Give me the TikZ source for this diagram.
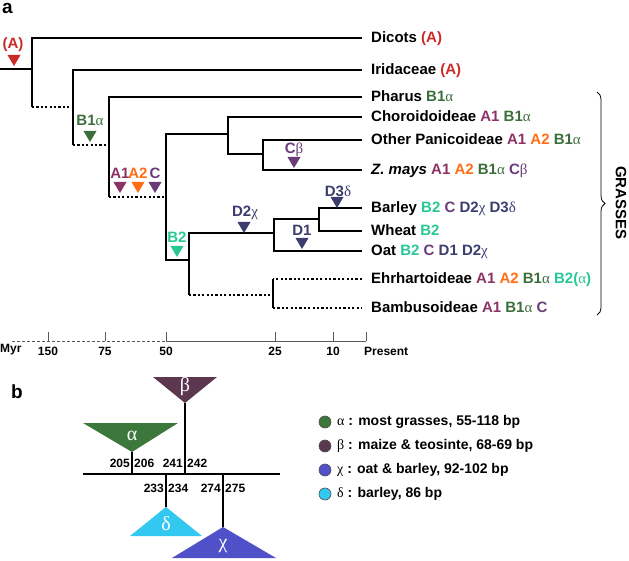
\documentclass[tikz,border=0pt]{standalone}
\usepackage{fontspec}
\setmainfont{Liberation Sans}
\newfontfamily\grk{Liberation Serif}
\usetikzlibrary{decorations.pathreplacing}
\definecolor{cA}{RGB}{204,41,41}
\definecolor{cAone}{RGB}{140,50,100}
\definecolor{cAtwo}{RGB}{255,110,20}
\definecolor{cBone}{RGB}{60,110,60}
\definecolor{cC}{RGB}{105,60,120}
\definecolor{cBtwo}{RGB}{40,200,150}
\definecolor{cD}{RGB}{60,60,110}
\definecolor{tAl}{RGB}{60,120,60}
\definecolor{tBe}{RGB}{92,55,80}
\definecolor{tCh}{RGB}{80,80,200}
\definecolor{tDe}{RGB}{50,200,240}
\newcommand\myal{{\grk\mdseries α}}
\newcommand\mybe{{\grk\mdseries β}}
\newcommand\mych{{\grk\mdseries χ}}
\newcommand\myde{{\grk\mdseries δ}}
\newcommand\mymk[3]{\fill[#1] ({#2-6.5},#3) -- ++(13,0) -- ++(-6.5,11) -- cycle;}
\begin{document}
\begin{tikzpicture}[x=1pt,y=-1pt,
  br/.style={line width=2.4pt},
  dotbr/.style={line width=2.4pt,dash pattern=on 2.2pt off 2.2pt},
  leaf/.style={anchor=west,inner xsep=9pt,inner ysep=0pt,text height=11pt,text depth=2pt,font=\fontsize{15}{18}\selectfont\bfseries},
  mlab/.style={inner sep=0pt,font=\fontsize{15}{18}\selectfont\bfseries},
  axlab/.style={inner sep=0pt,font=\fontsize{12}{14}\selectfont\bfseries},
  num/.style={inner sep=1pt,font=\fontsize{12}{14}\selectfont\bfseries},
  grkw/.style={inner sep=0pt,text=white,font=\fontsize{20}{22}\selectfont\grk},
  thin/.style={line width=1.1pt},
  legt/.style={anchor=west,inner sep=0pt,font=\fontsize{14}{16}\selectfont\bfseries},
  panel/.style={inner sep=0pt,font=\fontsize{19}{22}\selectfont\bfseries}
]
\useasboundingbox (0,0) rectangle (629,561);

\node[panel,anchor=north west] (pa) at (2,3) {a};
\node[panel] (pb) at (17,392) {b};

% ---- leaf labels ----
\node[leaf] (dic) at (362,38) {Dicots \textcolor{cA}{(A)}};
\node[leaf] (iri) at (362,70) {Iridaceae \textcolor{cA}{(A)}};
\node[leaf] (pha) at (362,97) {Pharus \textcolor{cBone}{B1\myal}};
\node[leaf] (cho) at (362,117) {Choroidoideae \textcolor{cAone}{A1} \textcolor{cBone}{B1\myal}};
\node[leaf] (opa) at (362,140) {Other Panicoideae \textcolor{cAone}{A1} \textcolor{cAtwo}{A2} \textcolor{cBone}{B1\myal}};
\node[leaf] (zma) at (362,170) {\textit{Z. mays} \textcolor{cAone}{A1} \textcolor{cAtwo}{A2} \textcolor{cBone}{B1\myal} \textcolor{cC}{C\mybe}};
\node[leaf] (bar) at (362,208) {Barley \textcolor{cBtwo}{B2} \textcolor{cC}{C} \textcolor{cD}{D2\mych{} D3\myde}};
\node[leaf] (whe) at (362,231) {Wheat \textcolor{cBtwo}{B2}};
\node[leaf] (oat) at (362,251) {Oat \textcolor{cBtwo}{B2} \textcolor{cC}{C} \textcolor{cD}{D1 D2\mych}};
\node[leaf] (ehr) at (362,279) {Ehrhartoideae \textcolor{cAone}{A1} \textcolor{cAtwo}{A2} \textcolor{cBone}{B1\myal} \textcolor{cBtwo}{B2(\myal)}};
\node[leaf] (bam) at (362,308) {Bambusoideae \textcolor{cAone}{A1} \textcolor{cBone}{B1\myal} \textcolor{cC}{C}};

% ---- internal coordinates ----
\coordinate (r0) at (0,69);
\coordinate (n1) at (32,69);
\coordinate (n1t) at (32,38);
\coordinate (n1b) at (32,107);
\coordinate (n2) at (73,107);
\coordinate (n2t) at (73,70);
\coordinate (n2b) at (73,145);
\coordinate (n3) at (109,145);
\coordinate (n3t) at (109,97);
\coordinate (n3b) at (109,197);
\coordinate (n4) at (166,197);
\coordinate (n4t) at (166,134);
\coordinate (n4b) at (166,260);
\coordinate (n5) at (228,134);
\coordinate (n5t) at (228,117);
\coordinate (n5b) at (228,154);
\coordinate (n6) at (263,154);
\coordinate (n6t) at (263,140);
\coordinate (n6b) at (263,170);
\coordinate (n7) at (189,260);
\coordinate (n7t) at (189,233);
\coordinate (n7b) at (189,295);
\coordinate (n8) at (274,233);
\coordinate (n8t) at (274,219);
\coordinate (n8b) at (274,251);
\coordinate (n9) at (319,219);
\coordinate (n9t) at (319,208);
\coordinate (n9b) at (319,231);
\coordinate (n10) at (273,295);
\coordinate (n10t) at (273,279);
\coordinate (n10b) at (273,308);

% ---- branches ----
\draw[br] (r0) -- (n1);
\draw[br] (dic.west) -- (n1t) -- (n1b);
\draw[dotbr] (n1b) -- (n2);
\draw[br] (iri.west) -- (n2t) -- (n2b);
\draw[dotbr] (n2b) -- (n3);
\draw[br] (pha.west) -- (n3t) -- (n3b);
\draw[dotbr] (n3b) -- (n4);
\draw[br] (n5) -- (n4t) -- (n4b) -- (n7);
\draw[br] (cho.west) -- (n5t) -- (n5b) -- (n6);
\draw[br] (opa.west) -- (n6t) -- (n6b) -- (zma.west);
\draw[br] (n8) -- (n7t) -- (n7b);
\draw[dotbr] (n7b) -- (n10);
\draw[br] (n9) -- (n8t) -- (n8b) -- (oat.west);
\draw[br] (bar.west) -- (n9t) -- (n9b) -- (whe.west);
\draw[dotbr] (ehr.west) -- (n10t);
\draw[br] (n10t) -- (n10b);
\draw[dotbr] (n10b) -- (bam.west);

% ---- markers ----
\node[mlab,text=cA] (mA) at (13,45) {(A)};
\mymk{cA}{14}{55}
\node[mlab,text=cBone] (mB1) at (90,120) {B1\myal};
\mymk{cBone}{90}{131}
\node[mlab,text=cAone] (mA1) at (120,173) {A1};
\mymk{cAone}{120}{182}
\node[mlab,text=cAtwo] (mA2) at (138,173) {A2};
\mymk{cAtwo}{138}{182}
\node[mlab,text=cC] (mC) at (155,173) {C};
\mymk{cC}{155}{182}
\node[mlab,text=cC] (mCb) at (294,150) {C\mybe};
\mymk{cC}{294}{157}
\node[mlab,text=cD] (mD2) at (245,213) {D2\mych};
\mymk{cD}{244}{222}
\node[mlab,text=cBtwo] (mB2) at (177,237) {B2};
\mymk{cBtwo}{177}{246}
\node[mlab,text=cD] (mD1) at (302,230) {D1};
\mymk{cD}{302}{238}
\node[mlab,text=cD] (mD3) at (338,191) {D3\myde};
\mymk{cD}{337}{197}

% ---- grasses brace ----
\coordinate (gt) at (597,92);
\coordinate (gb) at (597,315);
\draw[line width=0.8pt,decorate,decoration={brace,amplitude=8pt}] (gt) -- (gb);
\node[inner sep=0pt,rotate=-90,font=\fontsize{15}{18}\selectfont\bfseries] (gr) at (621,203) {GRASSES};

% ---- time axis ----
\coordinate (ax0) at (12,341);
\coordinate (ax50) at (166,341);
\coordinate (axp) at (366,341);
\draw[line width=0.8pt,gray!70!black,dash pattern=on 3pt off 2pt] (ax0) -- (ax50);
\draw[line width=0.8pt,gray!70!black] (ax50) -- (axp);
\foreach \xx in {48,105,166,275,333,366}{\draw[line width=0.8pt,gray!70!black] (\xx,332) -- (\xx,341);}
\node[axlab,anchor=west] (myr) at (0,350) {Myr};
\node[axlab] (t150) at (48,351) {150};
\node[axlab] (t75) at (105,351) {75};
\node[axlab] (t50) at (166,351) {50};
\node[axlab] (t25) at (275,351) {25};
\node[axlab] (t10) at (333,351) {10};
\node[axlab,anchor=west] (tp) at (364,351) {Present};

% ---- panel b ----
\coordinate (bL) at (83,474);
\coordinate (bR) at (280,474);
\coordinate (beA) at (185,403);
\coordinate (beJ) at (185,474);
\coordinate (alA) at (132,452);
\coordinate (alJ) at (132,474);
\coordinate (deA) at (166,507);
\coordinate (deJ) at (166,474);
\coordinate (chA) at (223,527);
\coordinate (chJ) at (223,474);
\fill[tBe] (153,377) -- (217,377) -- (beA) -- cycle;
\fill[tAl] (83,423) -- (178,423) -- (alA) -- cycle;
\fill[tDe] (130,536) -- (202,536) -- (deA) -- cycle;
\fill[tCh] (172,558) -- (276,558) -- (chA) -- cycle;
\draw[thin] (bL) -- (bR);
\draw[thin] (beA) -- (beJ);
\draw[thin] (alA) -- (alJ);
\draw[thin] (deJ) -- (deA);
\draw[thin] (chJ) -- (chA);
\node[grkw] (gbe) at (185,387) {β};
\node[grkw] (gal) at (132,436) {α};
\node[grkw] (gde) at (166,524) {δ};
\node[grkw] (gch) at (223,546) {χ};
\node[num,anchor=east] (n205) at (131,463) {205};
\node[num,anchor=west] (n206) at (133,463) {206};
\node[num,anchor=east] (n241) at (184,463) {241};
\node[num,anchor=west] (n242) at (186,463) {242};
\node[num,anchor=east] (n233) at (165,488) {233};
\node[num,anchor=west] (n234) at (167,488) {234};
\node[num,anchor=east] (n274) at (222,488) {274};
\node[num,anchor=west] (n275) at (224,488) {275};

% ---- legend ----
\foreach \yy/\cc in {422/tAl,446/tBe,470/tCh,494/tDe}{\filldraw[fill=\cc,draw=black!70,line width=0.6pt] (325,\yy) circle (6);}
\node[legt] (l1) at (337,422) {\myal{} : most grasses, 55-118 bp};
\node[legt] (l2) at (337,446) {\mybe{} : maize \& teosinte, 68-69 bp};
\node[legt] (l3) at (337,470) {\mych{} : oat \& barley, 92-102 bp};
\node[legt] (l4) at (337,494) {\myde{} : barley, 86 bp};
\end{tikzpicture}
\end{document}
